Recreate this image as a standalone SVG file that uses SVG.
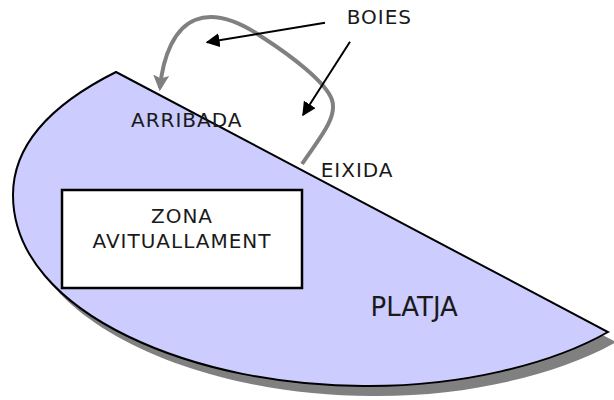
<svg xmlns="http://www.w3.org/2000/svg" width="614" height="400" viewBox="0 0 614 400">
<style>
.t{font-family:"DejaVu Sans","Verdana",sans-serif;fill:#1a1a1a;font-size:20px;letter-spacing:1px}
.blk{stroke:#000;stroke-width:2;fill:none}
</style>
<defs>
<path id="beach" d="M116,72 L608,332 C550,365 460,386 370,386 C200,388 13,315 13,195 C13,140 60,100 116,72 Z"/>
<marker id="ah" viewBox="0 0 10 10" refX="9" refY="5" markerWidth="14" markerHeight="14" markerUnits="userSpaceOnUse" orient="auto"><path d="M0,0 L10,5 L0,10 Z" fill="#000"/></marker>
<marker id="ag" viewBox="0 0 10 10" refX="8" refY="5" markerWidth="4" markerHeight="4" orient="auto"><path d="M0,0 L10,5 L0,10 L2,5 Z" fill="#808080"/></marker>
</defs>
<g id="platja">
<use href="#beach" transform="translate(8,10)" fill="#808080"/>
<use href="#beach" fill="#ccccff" stroke="#000" stroke-width="2"/>
<text class="t" x="370.5" y="315.7" style="font-size:26px;letter-spacing:0">PLATJA</text>
</g>
<g id="zona">
<rect x="62" y="190" width="240" height="98" fill="#fff" stroke="#000" stroke-width="2.5"/>
<text class="t" x="182" y="222.5" text-anchor="middle">ZONA</text>
<text class="t" x="182" y="248.3" text-anchor="middle">AVITUALLAMENT</text>
</g>
<g id="labels">
<text class="t" x="131" y="127.3">ARRIBADA</text>
<text class="t" x="320.7" y="177.3">EIXIDA</text>
<text class="t" x="346.7" y="24">BOIES</text>
</g>
<g id="connectors">
<path d="M302,164 C318,140 338,118 332,100 C326,82 290,55 262,37 C240,22 215,12 195,20 C175,28 163,55 160,88" fill="none" stroke="#808080" stroke-width="4" marker-end="url(#ag)"/>
<path class="blk" d="M325,22.7 L207,42.3" marker-end="url(#ah)"/>
<path class="blk" d="M350,41.7 L303,115" marker-end="url(#ah)"/>
</g>
</svg>
